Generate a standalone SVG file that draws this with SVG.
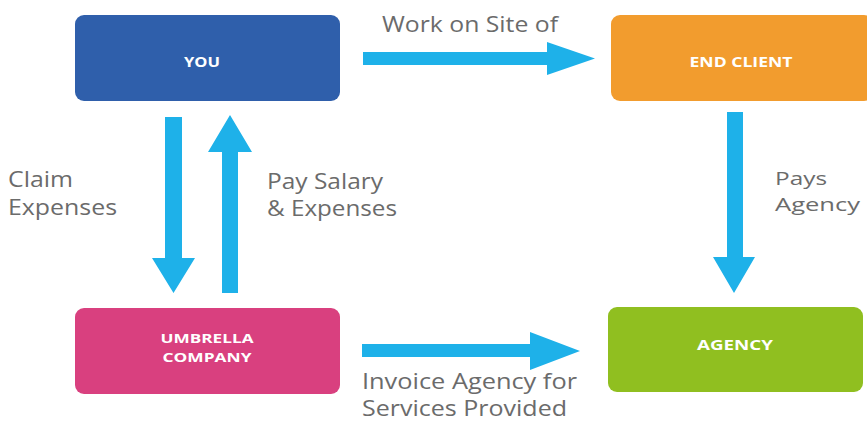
<svg xmlns="http://www.w3.org/2000/svg" width="867" height="421" viewBox="0 0 867 421">
  <style>
    .box { stroke: none; }
    .node-label { font-family: "Open Sans", "Liberation Sans", sans-serif; font-weight: 700; font-size: 15px; fill: #ffffff; text-anchor: middle; }
    .node-label.two-line { font-size: 13px; }
    .edge-label { font-family: "Open Sans", "Liberation Sans", sans-serif; font-size: 21.5px; fill: #6b6b6b; }
    .edge-label.tight { font-size: 19px; }
    .arrow { fill: #1eb1e9; }
  </style>
  <rect width="867" height="421" fill="#ffffff"/>

  <g id="connectors">
    <!-- YOU -> END CLIENT -->
    <polygon class="arrow" points="363,52 547,52 547,42 595,58.5 547,75 547,65 363,65"/>
    <!-- YOU -> UMBRELLA COMPANY -->
    <polygon class="arrow" points="165,117 182,117 182,258 195,258 173.5,293 152,258 165,258"/>
    <!-- UMBRELLA COMPANY -> YOU -->
    <polygon class="arrow" points="222,293 238,293 238,152 252,152 230,115 208,152 222,152"/>
    <!-- END CLIENT -> AGENCY -->
    <polygon class="arrow" points="727,112 743,112 743,257 755,257 734,293 713,257 727,257"/>
    <!-- UMBRELLA COMPANY -> AGENCY -->
    <polygon class="arrow" points="362,344 530,344 530,332 580,351 530,370 530,357 362,357"/>

    <text class="edge-label" x="382" y="32" textLength="176" lengthAdjust="spacingAndGlyphs">Work on Site of</text>
    <text class="edge-label" x="8" y="187" textLength="65" lengthAdjust="spacingAndGlyphs">Claim</text>
    <text class="edge-label" x="8" y="215" textLength="109" lengthAdjust="spacingAndGlyphs">Expenses</text>
    <text class="edge-label" x="267" y="189" textLength="116" lengthAdjust="spacingAndGlyphs">Pay Salary</text>
    <text class="edge-label" x="267" y="216" textLength="130" lengthAdjust="spacingAndGlyphs">&amp; Expenses</text>
    <text class="edge-label tight" x="775" y="185" textLength="52" lengthAdjust="spacingAndGlyphs">Pays</text>
    <text class="edge-label tight" x="775" y="211" textLength="85" lengthAdjust="spacingAndGlyphs">Agency</text>
    <text class="edge-label" x="362" y="389" textLength="215" lengthAdjust="spacingAndGlyphs">Invoice Agency for</text>
    <text class="edge-label" x="362" y="416" textLength="205" lengthAdjust="spacingAndGlyphs">Services Provided</text>
  </g>

  <g id="you">
    <rect class="box" x="75" y="15" width="265" height="86" rx="9" fill="#2f5fab"/>
    <text class="node-label" x="202" y="67" textLength="36" lengthAdjust="spacingAndGlyphs">YOU</text>
  </g>

  <g id="end-client">
    <rect class="box" x="611" y="15" width="262" height="86" rx="9" fill="#f29c2e"/>
    <text class="node-label" x="741" y="67" textLength="103" lengthAdjust="spacingAndGlyphs">END CLIENT</text>
  </g>

  <g id="umbrella-company">
    <rect class="box" x="75" y="308" width="265" height="86" rx="9" fill="#d9407f"/>
    <text class="node-label two-line" x="207" y="343" textLength="93" lengthAdjust="spacingAndGlyphs">UMBRELLA</text>
    <text class="node-label two-line" x="207" y="362" textLength="89" lengthAdjust="spacingAndGlyphs">COMPANY</text>
  </g>

  <g id="agency">
    <rect class="box" x="608" y="307" width="255" height="85" rx="9" fill="#90bf20"/>
    <text class="node-label" x="735" y="350" textLength="76" lengthAdjust="spacingAndGlyphs">AGENCY</text>
  </g>
</svg>
